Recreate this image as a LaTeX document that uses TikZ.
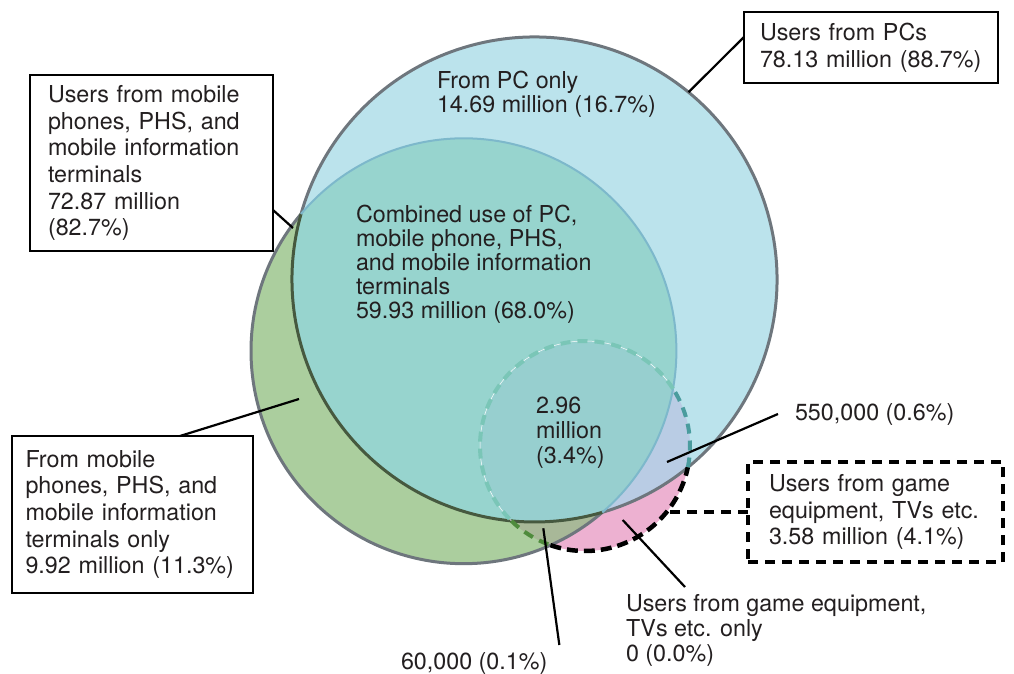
\documentclass[tikz,border=0pt]{standalone}
\usepackage{fontspec}
\setmainfont{TeX Gyre Heros}
\definecolor{pcblue}{HTML}{BBE3EC}
\definecolor{mobgreen}{HTML}{ABCE9E}
\definecolor{pcmob}{HTML}{97D4CE}
\definecolor{gamepink}{HTML}{EDB1D1}
\definecolor{pcgame}{HTML}{B9CCE4}
\definecolor{mobgame}{HTML}{A8B898}
\definecolor{allthree}{HTML}{97CFCF}
\definecolor{rimgrey}{HTML}{6E767D}
\definecolor{rimdark}{HTML}{46593F}
\definecolor{rimblue}{HTML}{7DB8CB}
\definecolor{dashteal}{HTML}{7AC6B7}
\definecolor{dashdeep}{HTML}{4A9C9E}
\definecolor{dashgreen}{HTML}{4E8B3C}
\definecolor{ink}{HTML}{231F20}
\begin{document}
\begin{tikzpicture}[x=1pt,y=1pt,
	txt/.style={inner sep=0pt, outer sep=0pt, align=left, text=ink, font=\fontsize{23.3}{24}\selectfont},
	box/.style={draw=black, line width=2pt, fill=white, inner sep=4pt, outer sep=0pt, anchor=north west, align=left, text=ink, font=\fontsize{23.3}{26.7}\selectfont},
	lead/.style={line width=2.2pt, black},
	rim/.style={line width=3pt, rimgrey},
	gamedash/.style={line width=4pt, dash pattern=on 10pt off 7pt}]
	\useasboundingbox (0,0) rectangle (1014,673);
	\coordinate (pc) at (534.5,393.5);
	\coordinate (mob) at (463.7,322);
	\coordinate (game) at (585,227);
	% region fills
	\fill [gamepink] (game) circle [radius=105pt];
	\fill [mobgreen] (mob) circle [radius=212.7pt];
	\fill [pcblue] (pc) circle [radius=242.5pt];
	\begin{scope}
		\clip (pc) circle [radius=242.5pt];
		\fill [pcgame] (game) circle [radius=105pt];
	\end{scope}
	\begin{scope}
		\clip (mob) circle [radius=212.7pt];
		\fill [mobgame] (game) circle [radius=105pt];
		\fill [pcmob] (pc) circle [radius=242.5pt];
		\clip (pc) circle [radius=242.5pt];
		\fill [allthree] (game) circle [radius=105pt];
	\end{scope}
	% outlines
	\draw [rim] (pc) ++(-73.76:242.5pt) arc [start angle=-73.76, end angle=164.33, radius=242.5pt];
	\draw [rim] (mob) ++(139.9:212.7pt) arc [start angle=139.9, end angle=310.67, radius=212.7pt];
	\draw [rim, rimdark] (pc) ++(164.33:242.5pt) arc [start angle=164.33, end angle=286.24, radius=242.5pt];
	\draw [line width=2pt, rimblue] (mob) ++(-49.33:212.7pt) arc [start angle=-49.33, end angle=139.9, radius=212.7pt];
	\draw [line width=0.5pt, white] (game) ++(33:105pt) arc [start angle=33, end angle=225.5, radius=105pt];
	\draw [gamedash, dashteal] (game) ++(33:105pt) arc [start angle=33, end angle=225.5, radius=105pt];
	\draw [gamedash, dashdeep] (game) ++(-11.76:105pt) arc [start angle=-11.76, end angle=33, radius=105pt];
	\draw [gamedash, dashgreen] (game) ++(225.5:105pt) arc [start angle=225.5, end angle=250.8, radius=105pt];
	\draw [line width=4.5pt, black, dash pattern=on 11pt off 6pt] (game) ++(250.8:105pt) arc [start angle=250.8, end angle=348.24, radius=105pt];
	% texts inside the circles
	\node [txt, anchor=north west] (pconly) at (437,602) {From PC only\\14.69 million (16.7\%)};
	\node [txt, anchor=north west] (pcmobtxt) at (356,468) {Combined use of PC,\\mobile phone, PHS,\\and mobile information\\terminals\\59.93 million (68.0\%)};
	\node [txt, anchor=north west, font=\fontsize{23.3}{25}\selectfont] (alltxt) at (536,276) {2.96\\million\\(3.4\%)};
	% boxes and labels
	\node [box, minimum width=254pt, minimum height=71pt, text width=222pt] (pcbox) at (744,661) {Users from PCs\\78.13 million (88.7\%)};
	\node [box, minimum width=243pt, minimum height=176pt, text width=207pt] (mobbox) at (30,598) {Users from mobile\\phones, PHS, and\\mobile information\\terminals\\72.87 million\\(82.7\%)};
	\node [box, minimum width=241pt, minimum height=157pt, text width=214pt] (mobonlybox) at (12,237) {From mobile\\phones, PHS, and\\mobile information\\terminals only\\9.92 million (11.3\%)};
	\node [box, line width=4pt, dash pattern=on 10pt off 7pt, minimum width=255pt, minimum height=100pt, text width=213pt] (gamebox) at (748,211) {Users from game\\equipment, TVs etc.\\3.58 million (4.1\%)};
	\node [txt, anchor=base west, inner xsep=17pt] (lbl550) at (778,253) {550,000 (0.6\%)};
	\node [txt, anchor=base west] (lbl60) at (401,4) {60,000 (0.1\%)};
	\node [txt, anchor=north west, font=\fontsize{23.3}{25}\selectfont] (lblgameonly) at (626,79) {Users from game equipment,\\TVs etc. only\\0 (0.0\%)};
	% connectors
	\coordinate (pcrim) at (688.5,580.8);
	\coordinate (mobjoin) at (293,445);
	\coordinate (mobonly) at (299,274);
	\coordinate (pcgamept) at (667,211);
	\coordinate (gamerim) at (670,161);
	\coordinate (pinkpt) at (622.7,153);
	\coordinate (olivept) at (543.3,144.7);
	\draw [lead] ([yshift=10.5pt]pcbox.west) -- (pcrim);
	\draw [lead] ([yshift=-47pt]mobbox.east) -- (mobjoin);
	\draw [lead] ([xshift=47.5pt]mobonlybox.north) -- (mobonly);
	\draw [line width=4pt, dash pattern=on 10pt off 7pt] (gamebox.west) -- (gamerim);
	\draw [lead] (lbl550.west) -- (pcgamept);
	\draw [lead] ([xshift=12pt,yshift=7pt]lbl60.north east) -- (olivept);
	\draw [lead] ([xshift=59pt,yshift=7pt]lblgameonly.north west) -- (pinkpt);
\end{tikzpicture}
\end{document}
